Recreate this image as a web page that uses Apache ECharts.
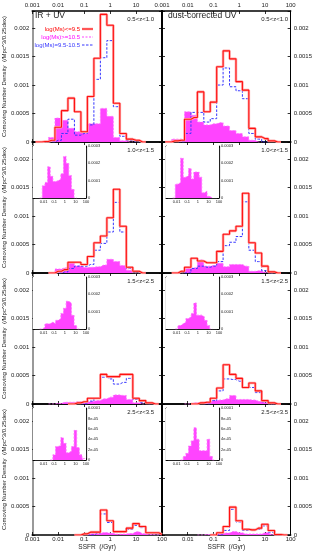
<!DOCTYPE html>
<html><head><meta charset="utf-8">
<script src="https://cdn.jsdelivr.net/npm/echarts@6/dist/echarts.min.js"></script>
<style>html,body{margin:0;padding:0;background:#fff}#c{width:315px;height:552px}</style>
</head><body><div id="c"></div>
<script>
// log10(SSFR / Gyr^-1) bin centres, 0.25 dex bins
const binCenters = [-3,-2.75,-2.5,-2.25,-2,-1.75,-1.5,-1.25,-1,-0.75,-0.5,-0.25,0,0.25,0.5,0.75,1,1.25,1.5,1.75,2];
const xTickLabels = ['0.001','0.01','0.1','1','10','100'];
const mainYLabels = ['0','0.0005','0.001','0.0015','0.002'];
const insetYLabels = ['0','0.0001','0.0002','0.0003'];
const inset4YLabels = ['0','2e-05','4e-05','6e-05','8e-05','0.0001'];
const zLabels = ['0.5<z<1.0','1.0<z<1.5','1.5<z<2.5','2.5<z<3.5'];
const seriesNames = ['log(Ms)<=9.5','log(Ms)>=10.5','log(Ms)=9.5-10.5'];
const N = null;

// IR + UV
const irRed1  = [N,0,1e-5,3e-5,26e-5,55e-5,77e-5,53e-5,18e-5,80e-5,147e-5,224e-5,205e-5,68e-5,15e-5,5e-5,3e-5,0,N,N,N];
const irBlue1 = [N,N,N,0,3e-5,15e-5,40e-5,12e-5,15e-5,30e-5,110e-5,148e-5,178e-5,62e-5,10e-5,3e-5,0,N,N,N,N];
const irMag1  = [N,N,0,8e-5,42e-5,38e-5,24e-5,18e-5,15e-5,32e-5,32e-5,59e-5,45e-5,8e-5,2e-5,0,N,N,N,N,N];
const irRed2  = [N,N,N,0,3e-5,6e-5,19e-5,19e-5,15e-5,29e-5,53e-5,65e-5,97e-5,147e-5,82e-5,10e-5,3e-5,0,N,N,N];
const irBlue2 = [N,N,N,N,0,2e-5,8e-5,12e-5,12e-5,15e-5,40e-5,52e-5,72e-5,124e-5,72e-5,8e-5,2e-5,0,N,N,N];
const irMag2  = [N,N,N,0,7e-5,9e-5,18e-5,12.5e-5,9.5e-5,10e-5,11e-5,14e-5,24e-5,20e-5,13e-5,5e-5,0,N,N,N,N];
const irRed3  = [N,N,N,N,N,N,0,2e-5,4e-5,10e-5,10e-5,52e-5,48e-5,48e-5,52e-5,52e-5,10e-5,6e-5,2e-5,0,N];
const irBlue3 = [N,N,N,N,N,N,N,N,0,5e-5,10e-5,47e-5,44e-5,35e-5,38e-5,45e-5,8e-5,3e-5,0,N,N];
const irMag3  = [N,N,N,0,1e-5,3e-5,3e-5,4e-5,3e-5,5e-5,6e-5,9e-5,12e-5,16e-5,15e-5,8e-5,2e-5,0,N,N,N];
const irRed4  = [N,N,N,N,N,N,N,0,2e-5,5e-5,5e-5,44e-5,25e-5,6e-5,6e-5,12e-5,20e-5,15e-5,4e-5,4e-5,1e-5];
const irBlue4 = [N,N,N,N,N,N,N,N,N,0,3e-5,37e-5,22e-5,5e-5,5e-5,10e-5,17e-5,13e-5,3e-5,3e-5,0];
const irMag4  = [N,N,N,N,N,N,N,0,1e-5,2.6e-5,2.8e-5,4.3e-5,3.2e-5,1.4e-5,1.7e-5,2.6e-5,5.7e-5,2.4e-5,1e-5,0.3e-5,0];
// dust-corrected UV
const dcRed1  = [N,0,2e-5,3e-5,40e-5,43e-5,88e-5,53e-5,70e-5,132e-5,160e-5,146e-5,106e-5,91e-5,24e-5,9e-5,6e-5,2e-5,0,N,N];
const dcBlue1 = [N,N,N,0,15e-5,52e-5,52e-5,35e-5,41e-5,100e-5,130e-5,97e-5,90e-5,76e-5,15e-5,5e-5,0,N,N,N,N];
const dcMag1  = [N,0,5e-5,5e-5,53e-5,47e-5,35e-5,30e-5,32e-5,34e-5,28e-5,20e-5,15e-5,9e-5,3e-5,0,N,N,N,N,N];
const dcRed2  = [N,N,0,3e-5,10e-5,26e-5,21e-5,18e-5,18e-5,38e-5,68e-5,74e-5,82e-5,140e-5,53e-5,35e-5,12e-5,2e-5,0,N,N];
const dcBlue2 = [N,N,N,N,0,8e-5,12e-5,10e-5,12e-5,20e-5,48e-5,54e-5,64e-5,125e-5,40e-5,20e-5,4e-5,0,N,N,N];
const dcMag2  = [N,N,N,0,8e-5,9e-5,23e-5,12e-5,13e-5,17e-5,11e-5,15e-5,15e-5,12e-5,3e-5,4e-5,1e-5,0,N,N,N];
const dcRed3  = [N,N,N,N,N,0,2e-5,3e-5,10e-5,28e-5,69e-5,52e-5,45e-5,29e-5,37e-5,23e-5,6e-5,2e-5,0,N,N];
const dcBlue3 = [N,N,N,N,N,N,N,0,6e-5,23e-5,44e-5,43e-5,40e-5,29e-5,29e-5,20e-5,4e-5,0,N,N,N];
const dcMag3  = [N,N,N,N,0,2e-5,3e-5,4e-5,6e-5,7e-5,9e-5,15e-5,8e-5,8e-5,7e-5,5e-5,2e-5,0,N,N,N];
const dcRed4  = [N,N,N,N,N,N,N,N,0,4e-5,15e-5,49e-5,25e-5,10e-5,9e-5,12e-5,19e-5,8e-5,1e-5,0,N];
const dcBlue4 = [N,N,N,N,N,N,N,N,N,0,8e-5,45e-5,23e-5,8e-5,8e-5,10e-5,16e-5,5e-5,0,N,N];
const dcMag4  = [N,N,N,N,N,N,0,0.7e-5,1.3e-5,2.7e-5,3.7e-5,6.2e-5,4e-5,1.8e-5,1.8e-5,1.8e-5,4e-5,0.7e-5,0,N,N];

const panels = [
  [[irRed1,irBlue1,irMag1],[dcRed1,dcBlue1,dcMag1]],
  [[irRed2,irBlue2,irMag2],[dcRed2,dcBlue2,dcMag2]],
  [[irRed3,irBlue3,irMag3],[dcRed3,dcBlue3,dcMag3]],
  [[irRed4,irBlue4,irMag4],[dcRed4,dcBlue4,dcMag4]]
];

const FONT = '"Liberation Sans", Arial, Helvetica, sans-serif';
const TXT = '#222';
const grids = [], xAxes = [], yAxes = [], series = [], graphics = [];
function pts(arr){ return binCenters.map((x,i)=>[x, arr[i]==null ? '-' : arr[i]]); }
function xFmt(skip){ return v => { const k = Math.round(v+3); if (Math.abs(v+3-k)>1e-6 || skip.includes(k)) return ''; return xTickLabels[k]||''; }; }
function yFmt(step, labels){ return v => { const k = Math.round(v/step); if (Math.abs(v-k*step) > step*1e-4) return ''; return labels[k]==null ? '' : labels[k]; }; }

const ROW_TOP = [11,142,273,404], ROW_H = 131;
const COL_LEFT = [31,162], COL_W = [131,132];
const INSET_LEFT = [33,166], INSET_TOP = [146,277,408];

function addAxes(gi, o){
  const xb = xAxes.length;
  const tickX = {show:true, inside:true, length:o.tick, lineStyle:{color:'#000', width:0.8}};
  xAxes.push({gridIndex:gi, type:'value', min:-3, max:2, interval:1, position:'bottom',
    axisLine:{show:true, onZero:false, lineStyle:{color:o.lineColor, width:o.bw}}, axisTick:tickX, splitLine:{show:false},
    axisLabel:{show:o.bottomLabels, formatter:xFmt(o.bottomSkip), fontSize:o.fs, margin:o.xMargin, color:TXT, fontFamily:FONT, showMinLabel:true, showMaxLabel:true, hideOverlap:false},
    name:o.xName||'', nameLocation:'middle', nameGap:9, nameTextStyle:{fontSize:6.5, color:TXT, fontFamily:FONT}});
  xAxes.push({gridIndex:gi, type:'value', min:-3, max:2, interval:1, position:'top',
    axisLine:{show:true, onZero:false, lineStyle:{color:o.lineColor, width:o.bw}}, axisTick:tickX, splitLine:{show:false},
    axisLabel:{show:o.topLabels, formatter:xFmt(o.topSkip||[]), fontSize:o.fs, margin:3, color:TXT, fontFamily:FONT, showMinLabel:true, showMaxLabel:true, hideOverlap:false}});
  const yl = yAxes.length;
  const tickY = {show:true, inside:true, length:o.tick, lineStyle:{color:'#000', width:0.8}};
  yAxes.push({gridIndex:gi, type:'value', min:0, max:o.ymax, interval:o.yint, position:'left',
    axisLine:{show:true, onZero:false, lineStyle:{color:o.leftColor, width:o.leftW}}, axisTick:tickY, splitLine:{show:false},
    axisLabel:{show:o.leftLabels, formatter:o.yfmt, fontSize:o.fs, margin:3, color:TXT, fontFamily:FONT, showMinLabel:true, showMaxLabel:true, hideOverlap:false},
    name:o.yName||'', nameLocation:'middle', nameGap:20, nameTextStyle:{fontSize:6, color:TXT, fontFamily:FONT}});
  yAxes.push({gridIndex:gi, type:'value', min:0, max:o.ymax, interval:o.yint, position:'right',
    axisLine:{show:true, onZero:false, lineStyle:{color:o.rightColor, width:o.rightW}}, axisTick:tickY, splitLine:{show:false},
    axisLabel:{show:o.rightLabels, formatter:o.yfmt, fontSize:o.fs, margin:o.rMargin, color:TXT, fontFamily:FONT, showMinLabel:true, showMaxLabel:true, hideOverlap:false}});
  return [xb, yl];
}

function magSeries(ax, data, z){
  return {type:'line', name:seriesNames[1], xAxisIndex:ax[0], yAxisIndex:ax[1], data:pts(data), step:'middle', symbol:'none',
    lineStyle:{color:'#ff77ff', width:0.9, type:[2,1.5]}, areaStyle:{color:'#ff44ff', opacity:1}, z:z, silent:true};
}

for (let r=0; r<4; r++){
  for (let c=0; c<2; c++){
    const gi = grids.length;
    grids.push({left:COL_LEFT[c], top:ROW_TOP[r], width:COL_W[c], height:ROW_H});
    const ax = addAxes(gi, {
      tick:3, lineColor:'#000', bw:1.6, fs:6, xMargin:1,
      bottomLabels: r===3, bottomSkip: c===1 ? [0] : [],
      topLabels: r===0, topSkip: c===0 ? [5] : [],
      xName: r===3 ? 'SSFR  (/Gyr)' : '',
      ymax:0.0023, yint:0.0005, yfmt:yFmt(0.0005, mainYLabels),
      leftColor: c===0 ? '#777' : '#000', leftW: c===0 ? 1.5 : 2,
      rightColor:'#000', rightW: c===0 ? 2 : 1,
      leftLabels: c===0, rightLabels: c===1, rMargin:3,
      yName: c===0 ? 'Comoving Number Density  (/Mpc^3/0.25dex)' : ''
    });
    const [red, blue, mag] = panels[r][c];
    series.push(magSeries(ax, mag, 2));
    series.push({type:'line', name:seriesNames[2], xAxisIndex:ax[0], yAxisIndex:ax[1], data:pts(blue), step:'middle', symbol:'none',
      lineStyle:{color:'#3535ff', width:1, type:[2.5,1.5]}, z:3, silent:true});
    series.push({type:'line', name:seriesNames[0]+' halo', xAxisIndex:ax[0], yAxisIndex:ax[1], data:pts(red), step:'middle', symbol:'none',
      lineStyle:{color:'#ffaaaa', width:2.6}, z:4, silent:true});
    series.push({type:'line', name:seriesNames[0], xAxisIndex:ax[0], yAxisIndex:ax[1], data:pts(red), step:'middle', symbol:'none',
      lineStyle:{color:'#ff1010', width:1.1}, z:5, silent:true});
    graphics.push({type:'text', z:50, style:{text:zLabels[r], x: c===0 ? 154 : 288, y: ROW_TOP[r]+8, textAlign:'right', textVerticalAlign:'middle',
      fill:TXT, fontSize:6, fontFamily:FONT}});
  }
}

// insets (rows 2-4): magenta histogram enlarged
for (let r=1; r<4; r++){
  for (let c=0; c<2; c++){
    const gi = grids.length;
    grids.push({left:INSET_LEFT[c], top:INSET_TOP[r-1], width:53, height:52, show:true, backgroundColor:'#fff', borderWidth:0, z:1});
    const small = r===3;
    const ax = addAxes(gi, {
      tick:2, lineColor:'#222', bw:1.2, fs:4, xMargin:2,
      bottomLabels:true, bottomSkip:[0], topLabels:false,
      ymax: small ? 0.0001 : 0.0003, yint: small ? 0.00002 : 0.0001,
      yfmt: small ? yFmt(0.00002, inset4YLabels) : yFmt(0.0001, insetYLabels),
      leftColor:'#222', leftW:1.2, rightColor:'#222', rightW:1.2,
      leftLabels:false, rightLabels:true, rMargin:2
    });
    series.push(magSeries(ax, panels[r][c][2], 6));
  }
}

// titles
graphics.push({type:'text', z:50, style:{text:'IR + UV', x:35, y:16, textVerticalAlign:'middle', fill:TXT, fontSize:8.5, fontFamily:FONT}});
graphics.push({type:'text', z:50, style:{text:'dust-corrected UV', x:168, y:16, textVerticalAlign:'middle', fill:TXT, fontSize:8.5, fontFamily:FONT}});
// legend (row 1, IR + UV panel)
const legendY = [29, 37, 45];
const legendColors = ['#ff0000', '#ff00ff', '#3535ff'];
[0,1,2].forEach(i=>{
  graphics.push({type:'text', z:50, style:{text:seriesNames[i], x:80, y:legendY[i], textAlign:'right', textVerticalAlign:'middle', fill:legendColors[i], fontSize:6, fontFamily:FONT}});
});
graphics.push({type:'line', z:50, shape:{x1:82,y1:legendY[0],x2:93,y2:legendY[0]}, style:{stroke:'#ffaaaa', lineWidth:2.6}});
graphics.push({type:'line', z:51, shape:{x1:82,y1:legendY[0],x2:93,y2:legendY[0]}, style:{stroke:'#ff1010', lineWidth:1.1}});
graphics.push({type:'line', z:50, shape:{x1:82,y1:legendY[1],x2:93,y2:legendY[1]}, style:{stroke:'#ff44ff', lineWidth:1, lineDash:[2,1.5]}});
graphics.push({type:'line', z:50, shape:{x1:82,y1:legendY[2],x2:93,y2:legendY[2]}, style:{stroke:'#3535ff', lineWidth:1, lineDash:[2.5,1.5]}});

const chart = echarts.init(document.getElementById('c'), null, {renderer:'canvas'});
chart.setOption({
  backgroundColor:'#fff', animation:false,
  textStyle:{fontFamily:FONT},
  grid:grids, xAxis:xAxes, yAxis:yAxes, series:series, graphic:graphics
});
</script>
</body></html>
